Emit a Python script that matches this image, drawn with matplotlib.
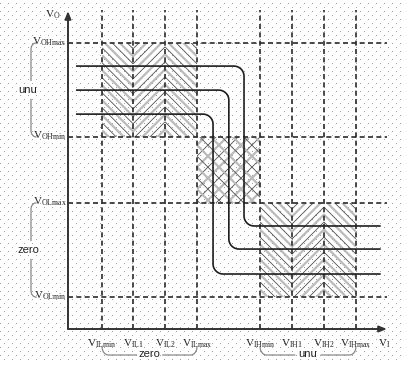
import numpy as np
import matplotlib
matplotlib.use("Agg")
import matplotlib.pyplot as plt
from matplotlib.patches import Rectangle

plt.rcParams['mathtext.fontset'] = 'custom'
plt.rcParams['mathtext.rm'] = 'Liberation Serif'
plt.rcParams['mathtext.it'] = 'Liberation Serif:italic'

# ---- data (arbitrary voltage units) ----
vil_levels = [1.08, 2.06, 3.07, 4.08]          # V_ILmin, V_IL1, V_IL2, V_ILmax
vih_levels = [6.08, 7.09, 8.10, 9.11]          # V_IHmin, V_IH1, V_IH2, V_IHmax
vol_levels = [1.01, 3.99]                      # V_OLmin, V_OLmax
voh_levels = [6.08, 9.05]                      # V_OHmin, V_OHmax
vil_labels = ['ILmin', 'IL1', 'IL2', 'ILmax']
vih_labels = ['IHmin', 'IH1', 'IH2', 'IHmax']
vol_labels = ['OLmin', 'OLmax']
voh_labels = ['OHmin', 'OHmax']
curve_high = [8.32, 7.56, 6.80]                # output high of each transfer curve
curve_low = [3.26, 2.53, 1.74]                 # output low of each transfer curve
curve_switch = [5.57, 5.09, 4.59]              # switching input of each curve
curve_start, curve_end = 0.28, 9.87

PX = 31.6      # pixels per unit
OX, OY = 68, 329

fig = plt.figure(figsize=(4.08, 3.74), dpi=100)
ax = fig.add_axes([0, 0, 1, 1])
ax.set_xlim((0 - OX) / PX, (408 - OX) / PX)
ax.set_ylim((OY - 374) / PX, (OY - 0) / PX)
ax.axis('off')

# background dot lattice
dx, dy = [], []
for j, py in enumerate(np.arange(0, 362, 4)):
    off = 4 if j % 2 == 0 else 0
    for px in np.arange(off, 404, 8):
        dx.append((px - OX) / PX)
        dy.append((OY - py) / PX)
ax.plot(dx, dy, linestyle='none', marker=',', color='#a0a0a0', zorder=0)

GRAY = dict(color='#bbbbbb', lw=1.6)
DARK = dict(color='#505050', lw=0.6)


def clip_rect(x0, x1, y0, y1):
    return Rectangle((x0, y0), x1 - x0, y1 - y0, transform=ax.transData)


def chevron(bounds, y0, y1, step):
    # zigzag baseline: "\" , "/" , "\"
    xs = [bounds[0]]
    hs = [0.0]
    sign = -1
    for b in bounds[1:]:
        hs.append(hs[-1] + sign * (b - xs[-1]))
        xs.append(b)
        sign = -sign
    hs = np.array(hs)
    clip = clip_rect(bounds[0], bounds[-1], y0, y1)
    cs = np.arange(y0 - hs.max() - step, y1 - hs.min() + step, step)
    for k, c in enumerate(cs):
        st = GRAY if k % 2 == 0 else DARK
        ln, = ax.plot(xs, hs + c, solid_capstyle='butt', zorder=1, **st)
        ln.set_clip_path(clip)


def crosshatch(x0, x1, y0, y1, step):
    clip = clip_rect(x0, x1, y0, y1)
    w = x1 - x0
    xx = np.array([x0, x1])
    for sgn in (1, -1):
        cs = np.arange(y0 - w - step, y1 + w + step, step)
        for k, c in enumerate(cs):
            st = GRAY if k % 2 == 0 else DARK
            yy = c + sgn * (xx - x0)
            ln, = ax.plot(xx, yy, zorder=1, **st)
            ln.set_clip_path(clip)


chevron(vil_levels, voh_levels[0], voh_levels[1], 7.5 / PX)
chevron(vih_levels, vol_levels[0], vol_levels[1], 7.5 / PX)
crosshatch(vil_levels[3], vih_levels[0], vol_levels[1], voh_levels[0], 11 / PX)

# dashed reference lines
ytop_d = (OY - 10) / PX
xright_d = (387 - OX) / PX
dash = dict(color='#2a2a2a', lw=1.2, dashes=(3, 2), zorder=2)
for v in vil_levels + vih_levels:
    ax.plot([v, v], [0, ytop_d], **dash)
for v in vol_levels + voh_levels:
    ax.plot([0, xright_d], [v, v], **dash)

# transfer curves with rounded corners
r = 0.32
t1 = np.linspace(np.pi / 2, 0, 12)
t2 = np.linspace(np.pi, 1.5 * np.pi, 12)
for hi, lo, xs in zip(curve_high, curve_low, curve_switch):
    px_ = np.concatenate([[curve_start], xs - r + r * np.cos(t1),
                          xs + r + r * np.cos(t2), [curve_end]])
    py_ = np.concatenate([[hi], hi - r + r * np.sin(t1),
                          lo + r + r * np.sin(t2), [lo]])
    ax.plot(px_, py_, color='#1e1e1e', lw=1.2, zorder=3)

# axes with arrows
ax_col = '#333333'
ax.annotate('', xy=(0, (OY - 11) / PX), xytext=(0, 0),
            arrowprops=dict(arrowstyle='-|>,head_length=0.45,head_width=0.18',
                            color=ax_col, lw=1.4, shrinkA=0, shrinkB=0), zorder=4)
ax.annotate('', xy=((387 - OX) / PX, 0), xytext=(0, 0),
            arrowprops=dict(arrowstyle='-|>,head_length=0.45,head_width=0.18',
                            color=ax_col, lw=1.4, shrinkA=0, shrinkB=0), zorder=4)

# labels
lab = dict(fontsize=8, color='#222222')
for v, s in zip(vil_levels + vih_levels, vil_labels + vih_labels):
    ax.text(v, -0.47, r'$\mathrm{V}_{\mathrm{%s}}$' % s, ha='center', va='center', **lab)
for v, s in zip(vol_levels + voh_levels, vol_labels + voh_labels):
    ax.text(-0.04, v + 0.04, r'$\mathrm{V}_{\mathrm{%s}}$' % s, ha='right', va='center', **lab)
ax.text((384 - OX) / PX, -0.47, r'$\mathrm{V}_{\mathrm{I}}$', ha='center', va='center', **lab)
ax.text(-0.47, (OY - 15) / PX, r'$\mathrm{V}_{\mathrm{O}}$', ha='center', va='center', **lab)

word = dict(fontsize=8, family='Liberation Sans', color='#222222', ha='center', va='center')
brace = dict(color='#888888', lw=0.9)
rb = 0.2


def vbrace(y0, y1, label):
    xb = (31 - OX) / PX
    xe = (36 - OX) / PX
    ym = 0.5 * (y0 + y1)
    gap = 0.3
    tt = np.linspace(0, np.pi / 2, 10)
    lx = np.concatenate([xb + (xe - xb) * (1 - np.cos(tt))[::-1], [xb]])
    ly = np.concatenate([y0 + rb * (1 - np.sin(tt))[::-1], [ym - gap]])
    ax.plot(lx, ly, **brace)
    ux = np.concatenate([[xb], xb + (xe - xb) * (1 - np.cos(tt))])
    uy = np.concatenate([[ym + gap], y1 - rb * (1 - np.sin(tt))])
    ax.plot(ux, uy, **brace)
    ax.text((28 - OX) / PX, ym, label, **word)


def hbrace(x0, x1, label):
    yb = (OY - 355) / PX
    ye = (OY - 347) / PX
    xm = 0.5 * (x0 + x1)
    gap = 0.42
    tt = np.linspace(0, np.pi / 2, 10)
    lx = np.concatenate([x0 + rb * (1 - np.cos(tt)), [xm - gap]])
    ly = np.concatenate([ye - (ye - yb) * np.sin(tt), [yb]])
    ax.plot(lx, ly, **brace)
    rx = np.concatenate([[xm + gap], x1 - rb * (1 - np.cos(tt[::-1]))])
    ry = np.concatenate([[yb], ye - (ye - yb) * np.sin(tt[::-1])])
    ax.plot(rx, ry, **brace)
    ax.text(xm, yb + 0.03, label, **word)


vbrace(voh_levels[0], voh_levels[1], 'unu')
vbrace(vol_levels[0], vol_levels[1], 'zero')
hbrace(vil_levels[0], vil_levels[3], 'zero')
hbrace(vih_levels[0], vih_levels[3], 'unu')

fig.savefig('out.png', dpi=100)
